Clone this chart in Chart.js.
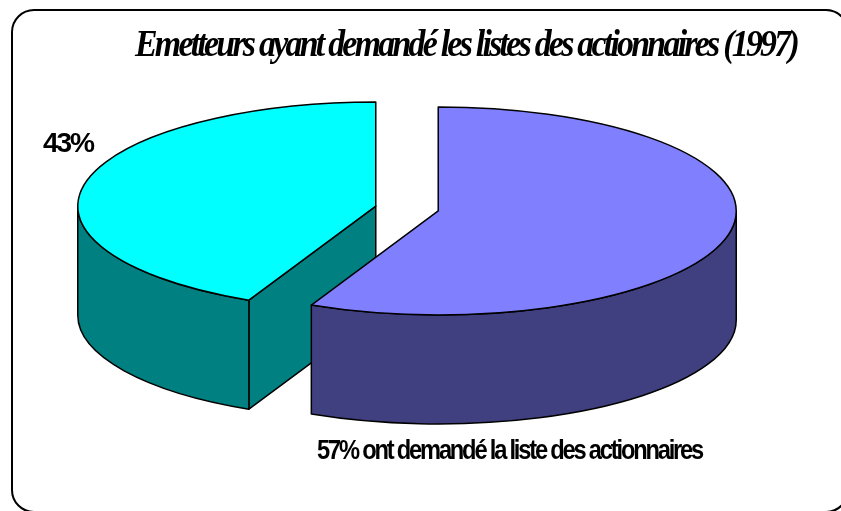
<!DOCTYPE html>
<html>
<head>
<meta charset="utf-8">
<script src="https://cdn.jsdelivr.net/npm/chart.js@4.4.1/dist/chart.umd.min.js"></script>
<style>
  html, body { margin: 0; padding: 0; background: #ffffff; }
  canvas { display: block; }
</style>
</head>
<body>
<canvas id="c" width="841" height="511"></canvas>
<script>
// ---- data ----
const categories = ["ont demandé la liste des actionnaires", "n'ont pas demandé la liste"];
const values = [57, 43];
const titleText = "Emetteurs ayant demandé les listes des actionnaires (1997)";
const labelTexts = [values[0] + "% " + categories[0], values[1] + "%"];

// ---- style ----
const topColors = ["#8080FF", "#00FFFF"];
const sideColors = ["#404080", "#008080"];
const TILT = 104 / 298;   // vertical squash of the pie (3D view)
const DEPTH = 109;        // thickness of the pie in px
const EXPLODE = 32;       // slice separation
const RADIUS = 298;

function fitText(ctx, text, x, y, font, width, spacing) {
  ctx.save();
  ctx.font = font;
  ctx.letterSpacing = spacing + "px";
  ctx.textAlign = "left";
  ctx.textBaseline = "alphabetic";
  const w = ctx.measureText(text).width;
  ctx.translate(x, y);
  ctx.scale(width / w, 1);
  ctx.fillStyle = "#000";
  ctx.fillText(text, 0, 0);
  ctx.restore();
}

const pie3d = {
  id: "pie3d",
  afterDatasetsUpdate(chart) {
    const meta = chart.getDatasetMeta(0);
    meta.data.forEach(arc => {
      const mid = (arc.startAngle + arc.endAngle) / 2;
      arc.x += Math.cos(mid) * EXPLODE;
      arc.y += Math.sin(mid) * EXPLODE;
    });
  },
  beforeDatasetsDraw(chart) {
    const ctx = chart.ctx;
    const meta = chart.getDatasetMeta(0);
    const cy0 = (chart.chartArea.top + chart.chartArea.bottom) / 2;
    const items = meta.data.map((arc, i) => ({
      arc, i,
      X: arc.x,
      Y: cy0 + (arc.y - cy0) * TILT,
      R: arc.outerRadius
    }));
    items.sort((a, b) => a.Y - b.Y);
    ctx.save();
    ctx.lineWidth = 1.5;
    ctx.strokeStyle = "#000";
    ctx.lineJoin = "round";
    items.forEach(({arc, i, X, Y, R}) => {
      const ry = R * TILT;
      ctx.fillStyle = sideColors[i];
      const face = (a) => {
        ctx.beginPath();
        ctx.moveTo(X, Y);
        ctx.lineTo(X + R * Math.cos(a), Y + ry * Math.sin(a));
        ctx.lineTo(X + R * Math.cos(a), Y + ry * Math.sin(a) + DEPTH);
        ctx.lineTo(X, Y + DEPTH);
        ctx.closePath();
        ctx.fill();
        ctx.stroke();
      };
      if (Math.cos(arc.startAngle) < -1e-6) face(arc.startAngle);
      if (Math.cos(arc.endAngle) > 1e-6) face(arc.endAngle);
      [-2 * Math.PI, 0, 2 * Math.PI].forEach(off => {
        const lo = Math.max(arc.startAngle, off);
        const hi = Math.min(arc.endAngle, off + Math.PI);
        if (hi > lo) {
          ctx.beginPath();
          ctx.ellipse(X, Y, R, ry, 0, lo, hi, false);
          ctx.ellipse(X, Y + DEPTH, R, ry, 0, hi, lo, true);
          ctx.closePath();
          ctx.fill();
          ctx.stroke();
        }
      });
    });
    ctx.restore();
    ctx.save();
    ctx.translate(0, cy0);
    ctx.scale(1, TILT);
    ctx.translate(0, -cy0);
  },
  afterDatasetsDraw(chart) {
    const ctx = chart.ctx;
    ctx.restore();
    const meta = chart.getDatasetMeta(0);
    const cy0 = (chart.chartArea.top + chart.chartArea.bottom) / 2;
    meta.data.forEach(arc => {
      ctx.save();
      ctx.translate(0, cy0);
      ctx.scale(1, TILT);
      ctx.translate(0, -cy0);
      ctx.beginPath();
      ctx.moveTo(arc.x, arc.y);
      ctx.arc(arc.x, arc.y, arc.outerRadius, arc.startAngle, arc.endAngle, false);
      ctx.closePath();
      ctx.restore();
      ctx.save();
      ctx.lineWidth = 1.5;
      ctx.lineJoin = "round";
      ctx.strokeStyle = "#000";
      ctx.stroke();
      ctx.restore();
    });
  },
  afterDraw(chart) {
    const ctx = chart.ctx;
    // frame
    ctx.save();
    ctx.lineWidth = 2;
    ctx.strokeStyle = "#000";
    ctx.beginPath();
    ctx.roundRect(12, 10, 836, 502, 22);
    ctx.stroke();
    ctx.restore();
    // title
    fitText(ctx, titleText, 135, 56, "italic bold 37px 'Liberation Serif'", 662, -3);
    // labels
    fitText(ctx, labelTexts[1], 43, 152, "bold 27px 'Liberation Sans'", 50, -2);
    fitText(ctx, labelTexts[0], 317, 459, "bold 27px 'Liberation Sans'", 385, -2.5);
  }
};

new Chart(document.getElementById("c"), {
  type: "pie",
  data: {
    labels: categories,
    datasets: [{
      data: values,
      backgroundColor: topColors,
      borderWidth: 0,
      clip: false
    }]
  },
  options: {
    responsive: false,
    animation: false,
    events: [],
    radius: RADIUS,
    layout: { padding: { left: 0, right: 27, top: 0, bottom: 94 } },
    plugins: {
      legend: { display: false },
      title: { display: false },
      tooltip: { enabled: false }
    }
  },
  plugins: [pie3d]
});
</script>
</body>
</html>
